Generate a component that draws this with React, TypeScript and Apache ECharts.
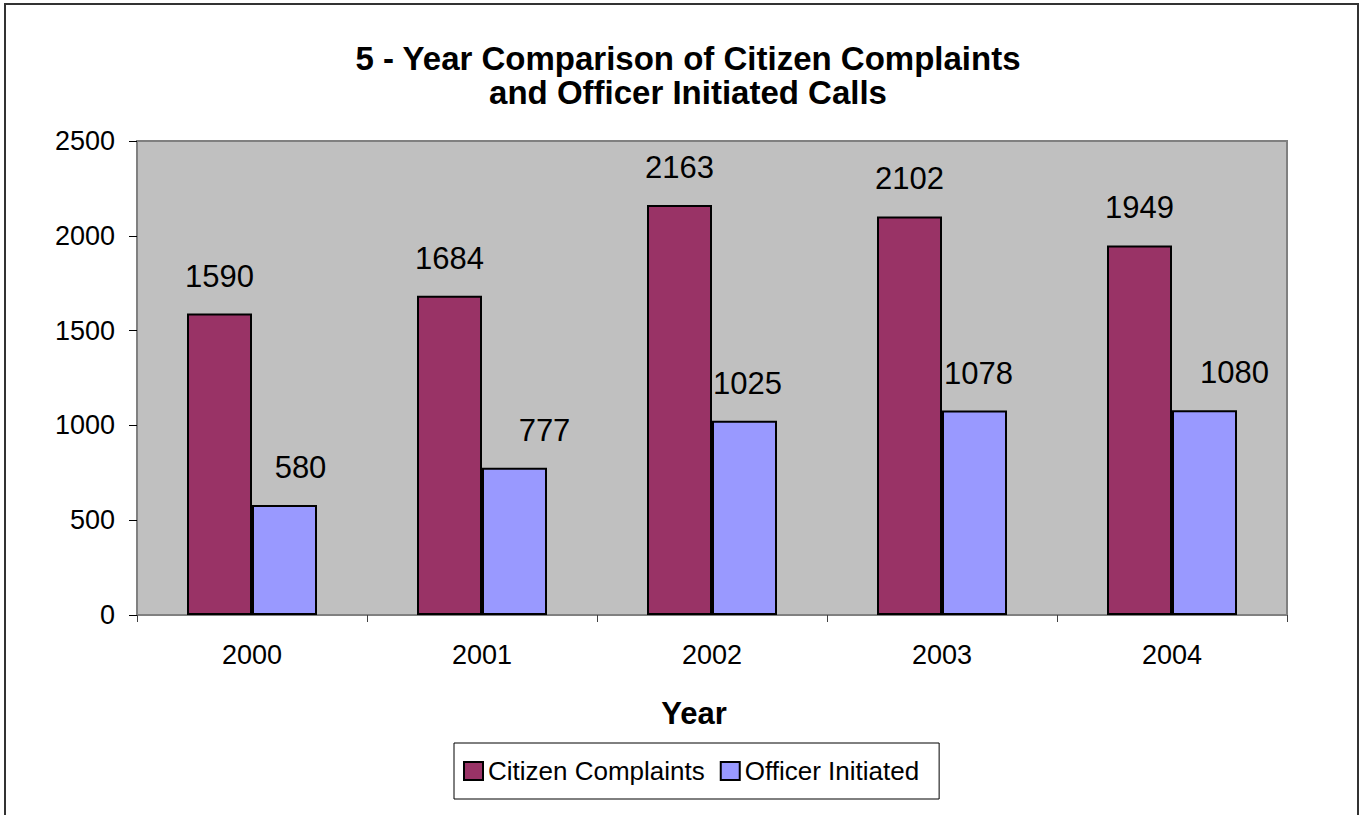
import React, { useEffect, useRef } from "react";
import * as echarts from "echarts";

const years = ["2000", "2001", "2002", "2003", "2004"];
const citizenComplaints = [1590, 1684, 2163, 2102, 1949];
const officerInitiated = [580, 777, 1025, 1078, 1080];
const seriesNames = ["Citizen Complaints", "Officer Initiated"];
const titleLines = ["5 - Year Comparison of Citizen Complaints", "and Officer Initiated Calls"];
const xAxisTitle = "Year";

const FONT = '"Liberation Sans", Arial, Helvetica, sans-serif';

export default function App() {
  const ref = useRef<HTMLDivElement>(null);

  useEffect(() => {
    if (!ref.current) return;
    const chart = echarts.init(ref.current, undefined, { renderer: "svg" });
    const officerLabelShift = [16, 30, 3, 4, 30];

    const option = {
      animation: false,
      backgroundColor: "#ffffff",
      textStyle: { fontFamily: FONT },
      grid: {
        left: 137,
        right: 72,
        top: 141,
        bottom: 200,
        show: true,
        backgroundColor: "#C0C0C0",
        borderColor: "#808080",
        borderWidth: 2,
      },
      legend: {
        data: seriesNames,
        left: 454,
        top: 743,
        orient: "horizontal",
        padding: [15, 20, 15, 9],
        itemWidth: 19,
        itemHeight: 18,
        itemGap: 15,
        icon: "rect",
        borderColor: "#000000",
        borderWidth: 1,
        textStyle: { fontSize: 26, fontFamily: FONT, color: "#000" },
      },
      xAxis: {
        type: "category",
        data: years,
        axisLine: { show: true, lineStyle: { color: "#808080", width: 2 } },
        axisTick: { show: true, length: 7, alignWithLabel: false, lineStyle: { color: "#404040", width: 1 } },
        axisLabel: { fontSize: 27, color: "#000", margin: 26, fontFamily: FONT },
        splitLine: { show: false },
      },
      yAxis: {
        type: "value",
        min: 0,
        max: 2500,
        interval: 500,
        axisLine: { show: true, lineStyle: { color: "#808080", width: 2 } },
        axisTick: { show: true, length: 8, lineStyle: { color: "#000", width: 1 } },
        axisLabel: {
          fontSize: 27,
          color: "#000",
          margin: 22,
          fontFamily: FONT,
          formatter: (v: number) => String(v),
        },
        splitLine: { show: false },
      },
      series: [
        {
          name: seriesNames[0],
          type: "bar",
          barWidth: 65,
          barGap: "0%",
          data: citizenComplaints,
          itemStyle: { color: "#993366", borderColor: "#000", borderWidth: 2 },
          label: {
            show: true,
            position: "top",
            distance: 22,
            fontSize: 31,
            color: "#000",
            fontFamily: FONT,
          },
        },
        {
          name: seriesNames[1],
          type: "bar",
          barWidth: 65,
          barGap: "0%",
          data: officerInitiated.map((v, i) => ({
            value: v,
            label: { offset: [officerLabelShift[i], 0] },
          })),
          itemStyle: { color: "#9999FF", borderColor: "#000", borderWidth: 2 },
          label: {
            show: true,
            position: "top",
            distance: 22,
            fontSize: 31,
            color: "#000",
            fontFamily: FONT,
          },
        },
      ],
      graphic: [
        {
          type: "rect",
          silent: true,
          shape: { x: 5, y: 4, width: 1353, height: 900 },
          style: { fill: "none", stroke: "#333333", lineWidth: 2 },
          z: 100,
        },
        {
          type: "text",
          silent: true,
          x: 688,
          y: 41,
          style: {
            text: titleLines.join("\n"),
            font: `bold 33px ${FONT}`,
            textAlign: "center",
            textVerticalAlign: "top",
            lineHeight: 34,
            fill: "#000",
          },
        },
        {
          type: "text",
          silent: true,
          x: 694,
          y: 713,
          style: {
            text: xAxisTitle,
            font: `bold 31px ${FONT}`,
            textAlign: "center",
            textVerticalAlign: "middle",
            fill: "#000",
          },
        },
      ],
    };

    chart.setOption(option as any);
    return () => chart.dispose();
  }, []);

  return (
    <div
      ref={ref}
      style={{ position: "fixed", left: 0, top: 0, width: 1359, height: 815 }}
    />
  );
}
